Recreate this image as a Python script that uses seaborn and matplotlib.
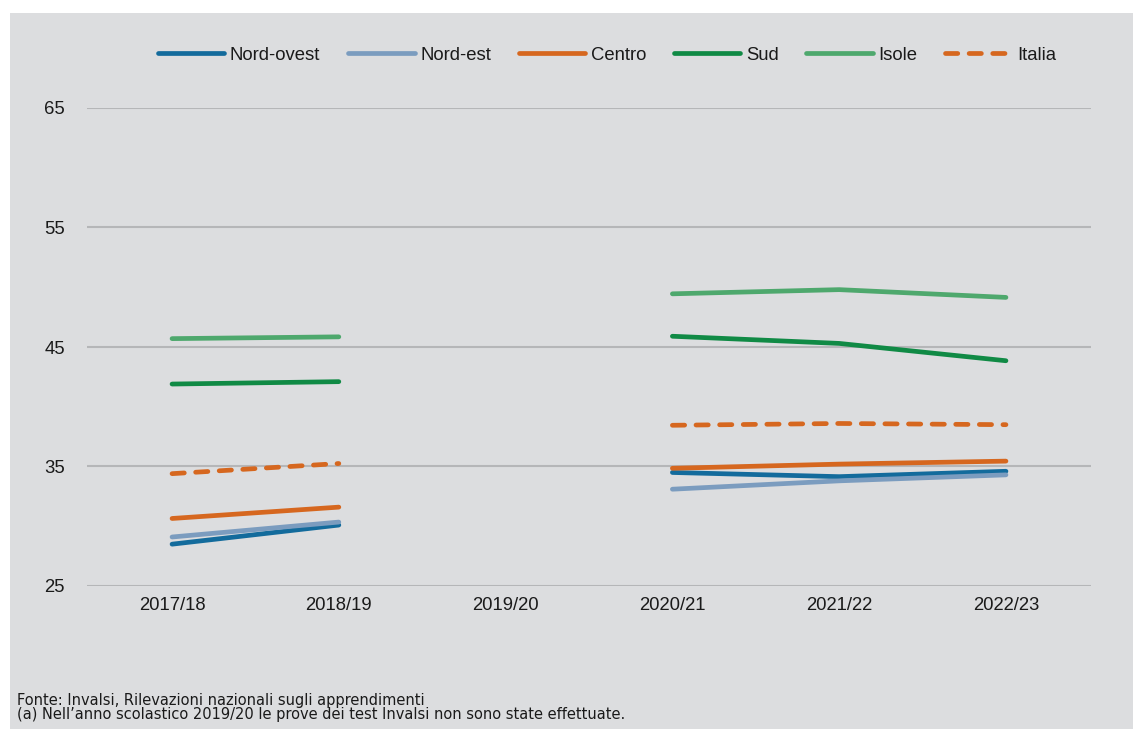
import numpy as np
import pandas as pd
import matplotlib
matplotlib.use("Agg")
import matplotlib.pyplot as plt
import seaborn as sns
from matplotlib.patches import Rectangle
from matplotlib.lines import Line2D

# dati (2019/20 mancante)
anni = ["2017/18", "2018/19", "2019/20", "2020/21", "2021/22", "2022/23"]
nord_ovest = [28.5, 30.1, np.nan, 34.5, 34.15, 34.6]
nord_est = [29.1, 30.35, np.nan, 33.1, 33.8, 34.3]
centro = [30.65, 31.6, np.nan, 34.85, 35.2, 35.45]
sud = [41.9, 42.1, np.nan, 45.9, 45.3, 43.85]
isole = [45.7, 45.85, np.nan, 49.45, 49.8, 49.15]
italia = [34.4, 35.25, np.nan, 38.45, 38.6, 38.5]

serie = {
    "Nord-ovest": nord_ovest,
    "Nord-est": nord_est,
    "Centro": centro,
    "Sud": sud,
    "Isole": isole,
    "Italia": italia,
}
colori = {
    "Nord-ovest": "#136b9c",
    "Nord-est": "#7b9cbf",
    "Centro": "#d6671f",
    "Sud": "#108a45",
    "Isole": "#4ea86d",
    "Italia": "#d6671f",
}

righe = []
for nome, valori in serie.items():
    seg = 0
    for i, v in enumerate(valori):
        if np.isnan(v):
            seg += 1
            continue
        righe.append({"regione": nome, "x": i, "valore": v, "seg": seg})
df = pd.DataFrame(righe)

sns.set_style("white")
plt.rcParams["font.family"] = ["Liberation Sans", "DejaVu Sans"]

LW = 3.4
DASH = (0, (2.6, 2.4))

fig = plt.figure(figsize=(11.33, 7.29), dpi=100)
W, H = 1133, 729
fig.patches.append(Rectangle((10 / W, 0), 1, 1 - 13 / H, transform=fig.transFigure,
                             facecolor="#dcdddf", edgecolor="none", zorder=-10))

ax = fig.add_axes([87 / W, 1 - 586 / H, (1091 - 87) / W, (586 - 108) / H])
ax.set_facecolor("none")

for nome in serie:
    d = df[df["regione"] == nome]
    sns.lineplot(data=d, x="x", y="valore", units="seg", estimator=None, ax=ax,
                 color=colori[nome], linewidth=LW, zorder=3,
                 linestyle=DASH if nome == "Italia" else "-",
                 solid_capstyle="round", dash_capstyle="round")

ax.set_xlim(-0.51, 5.51)
ax.set_ylim(25, 65)
ax.set_yticks([25, 35, 45, 55, 65])
ax.set_xticks(range(len(anni)))
ax.set_xticklabels(anni)
ax.yaxis.grid(True, color="#b5b6b8", linewidth=1.5)
ax.set_axisbelow(True)
for s in ax.spines.values():
    s.set_visible(False)
ax.tick_params(axis="both", length=0, labelsize=13.3, colors="#1a1a1a")
ax.tick_params(axis="y", pad=16)
ax.tick_params(axis="x", pad=8)
ax.set_xlabel("")
ax.set_ylabel("")

maniglie = []
for nome in serie:
    maniglie.append(Line2D([], [], color=colori[nome], linewidth=LW,
                           linestyle=DASH if nome == "Italia" else "-",
                           solid_capstyle="round", dash_capstyle="round"))
fig.legend(maniglie, list(serie.keys()), loc="center", bbox_to_anchor=(607 / W, 1 - 55 / H),
           ncol=6, frameon=False, fontsize=13.3, handlelength=3.6, handletextpad=0.3,
           columnspacing=1.5, labelcolor="#1a1a1a")

note = ("Fonte: Invalsi, Rilevazioni nazionali sugli apprendimenti\n"
        "(a) Nell\u2019anno scolastico 2019/20 le prove dei test Invalsi non sono state effettuate.")
fig.text(17 / W, 1 - 722 / H, note, fontsize=10.5, va="bottom", ha="left",
         family=["Liberation Sans Narrow", "DejaVu Sans"], color="#1a1a1a", linespacing=0.95)

fig.savefig("out.png", dpi=100)
